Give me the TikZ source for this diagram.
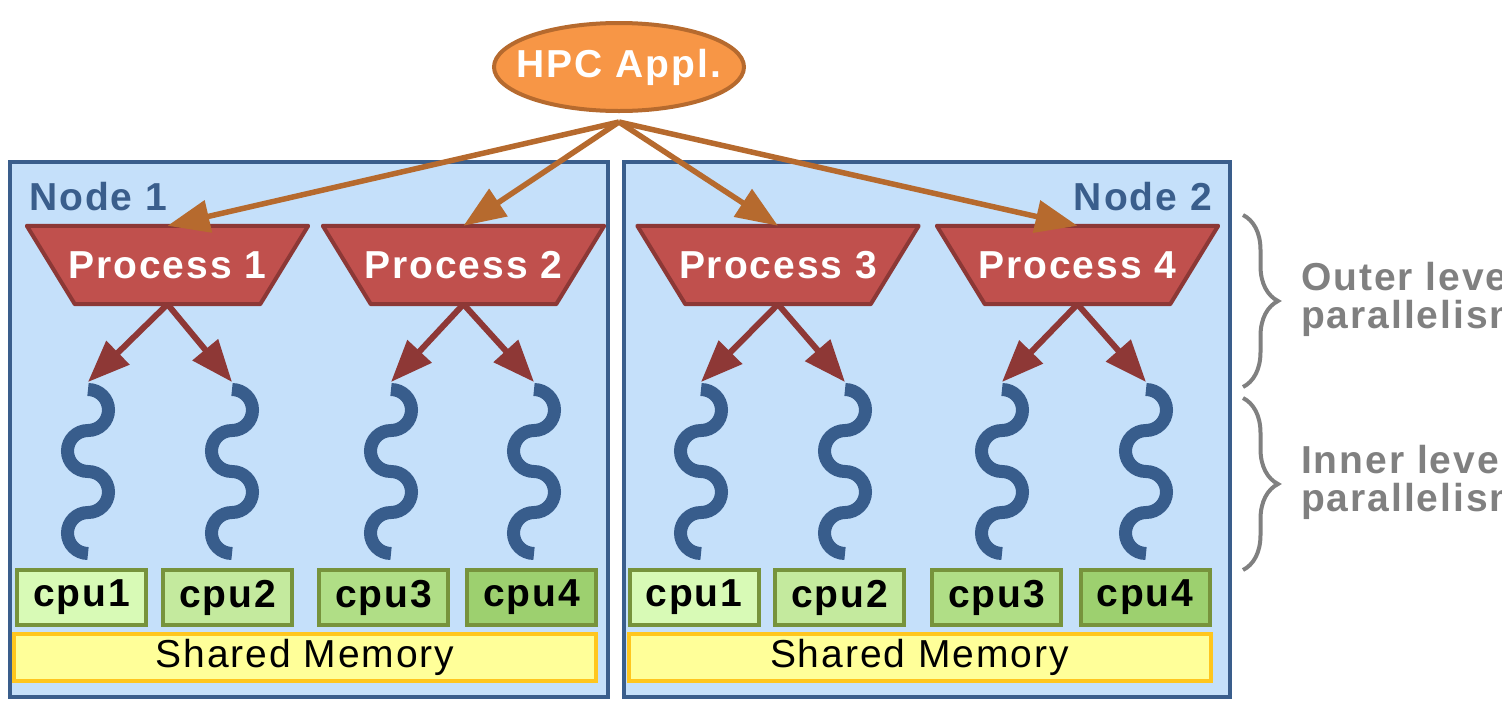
\documentclass[tikz,border=0pt]{standalone}
\usepackage{fontspec}
\setmainfont{Liberation Sans}[LetterSpace=5]
\usetikzlibrary{arrows.meta,decorations.pathreplacing,shapes.geometric}
\definecolor{nodefill}{RGB}{197,224,250}
\definecolor{nodeborder}{RGB}{58,94,140}
\definecolor{threadblue}{RGB}{56,93,140}
\definecolor{hpcfill}{RGB}{247,150,70}
\definecolor{hpcborder}{RGB}{182,106,46}
\definecolor{procfill}{RGB}{192,80,77}
\definecolor{procborder}{RGB}{140,56,54}
\definecolor{arrred}{RGB}{142,56,54}
\definecolor{cpuborder}{RGB}{119,147,60}
\definecolor{cpuA}{RGB}{216,250,182}
\definecolor{cpuB}{RGB}{196,234,158}
\definecolor{cpuC}{RGB}{176,222,134}
\definecolor{cpuD}{RGB}{157,208,111}
\definecolor{memfill}{RGB}{255,255,153}
\definecolor{memborder}{RGB}{255,198,30}
\definecolor{sidegray}{RGB}{128,128,128}
\begin{document}
\begin{tikzpicture}[x=1pt,y=-1pt,
  lbl/.style={font=\fontsize{39}{46}\selectfont\bfseries, inner sep=0pt},
  nodebox/.style={draw=nodeborder, fill=nodefill, line width=4pt, inner sep=0pt, minimum height=535pt},
  nodelbl/.style={lbl, text=nodeborder},
  hpc/.style={ellipse, draw=hpcborder, fill=hpcfill, line width=4pt, minimum width=250pt, minimum height=88pt, inner sep=0pt},
  hpctext/.style={lbl, text=white},
  procbox/.style={minimum width=281pt, minimum height=78pt, inner sep=0pt},
  procshape/.style={draw=procborder, fill=procfill, line width=4pt, line join=round},
  proctext/.style={lbl, text=white},
  cpu/.style={lbl, draw=cpuborder, line width=4pt, minimum width=129pt, minimum height=55pt},
  mem/.style={draw=memborder, fill=memfill, line width=4pt, minimum width=582pt, minimum height=47pt, inner sep=0pt, font=\fontsize{39}{46}\selectfont},
  hpcarrow/.style={draw=hpcborder, line width=5.5pt, -{Triangle[length=42pt,width=32pt]}},
  procarrow/.style={draw=arrred, line width=6pt, -{Triangle[length=42pt,width=32pt]}},
  thread/.style={draw=threadblue, line width=13pt},
  bracestyle/.style={draw=sidegray, line width=4pt, decorate, decoration={brace, amplitude=35pt}},
  side/.style={text=sidegray, font=\fontsize{39}{38.5}\selectfont\bfseries, align=left, inner sep=0pt, anchor=north west}
]
\useasboundingbox (0,0) rectangle (1502,702);
\clip (0,0) rectangle (1502,702);

% cluster nodes
\node[nodebox, minimum width=598pt] (n1) at (309,429.5) {};
\node[nodebox, minimum width=606pt] (n2) at (927,429.5) {};
\node[nodelbl, anchor=base west] (n1l) at (29,210) {Node 1};
\node[nodelbl, anchor=base east] (n2l) at (1212,210) {Node 2};

% processes
\node[procbox] (p1) at (167.5,265) {};
\node[procbox] (p2) at (463.5,265) {};
\node[procbox] (p3) at (778,265) {};
\node[procbox] (p4) at (1077.5,265) {};
\foreach \p in {p1,p2,p3,p4}
  \draw[procshape] (\p.north west) -- (\p.north east) -- ([xshift=-48pt]\p.south east) -- ([xshift=48pt]\p.south west) -- cycle;
\node[proctext] (p1t) at (p1) {Process 1};
\node[proctext] (p2t) at (p2) {Process 2};
\node[proctext] (p3t) at (p3) {Process 3};
\node[proctext] (p4t) at (p4) {Process 4};

% application
\node[hpc] (hpc) at (619,67) {};
\node[hpctext] (hpct) at (hpc) {HPC Appl.};
\foreach \p in {p1,p2,p3,p4}
  \draw[hpcarrow] ([yshift=-9pt]hpc.south) -- (\p.north);

% thread tops
\coordinate (t1a) at (88,382);
\coordinate (t1b) at (232,382);
\coordinate (t2a) at (391,382);
\coordinate (t2b) at (534,382);
\coordinate (t3a) at (701,382);
\coordinate (t3b) at (845,382);
\coordinate (t4a) at (1002,382);
\coordinate (t4b) at (1146,382);

\draw[procarrow] (p1.south) -- (t1a);
\draw[procarrow] (p1.south) -- (t1b);
\draw[procarrow] (p2.south) -- (t2a);
\draw[procarrow] (p2.south) -- (t2b);
\draw[procarrow] (p3.south) -- (t3a);
\draw[procarrow] (p3.south) -- (t3b);
\draw[procarrow] (p4.south) -- (t4a);
\draw[procarrow] (p4.south) -- (t4b);

\foreach \t in {t1a,t1b,t2a,t2b,t3a,t3b,t4a,t4b}
  \draw[thread] (\t) ++(0,7.5) arc(-90:90:20.5) arc(-90:-270:20.5) arc(-90:90:20.5) arc(-90:-270:20.5);

% cpus
\node[cpu, fill=cpuA] (c11) at (81.5,597.5) {cpu1};
\node[cpu, fill=cpuB] (c12) at (227.5,597.5) {cpu2};
\node[cpu, fill=cpuC] (c13) at (383.5,597.5) {cpu3};
\node[cpu, fill=cpuD] (c14) at (531.5,597.5) {cpu4};
\node[cpu, fill=cpuA] (c21) at (694,597.5) {cpu1};
\node[cpu, fill=cpuB] (c22) at (839.5,597.5) {cpu2};
\node[cpu, fill=cpuC] (c23) at (996.5,597.5) {cpu3};
\node[cpu, fill=cpuD] (c24) at (1145,597.5) {cpu4};

% memories
\node[mem] (m1) at (305,657.5) {Shared Memory};
\node[mem] (m2) at (919.5,657.5) {Shared Memory};

% braces and side labels
\coordinate (ob1) at (1243,215);
\coordinate (ob2) at (1243,387);
\coordinate (ib1) at (1243,398);
\coordinate (ib2) at (1243,570);
\draw[bracestyle] (ob1) -- (ob2);
\draw[bracestyle] (ib1) -- (ib2);
\node[side] (outer) at (1301,262) {Outer level\\parallelism};
\node[side] (inner) at (1301,445) {Inner level\\parallelism};
\end{tikzpicture}
\end{document}
